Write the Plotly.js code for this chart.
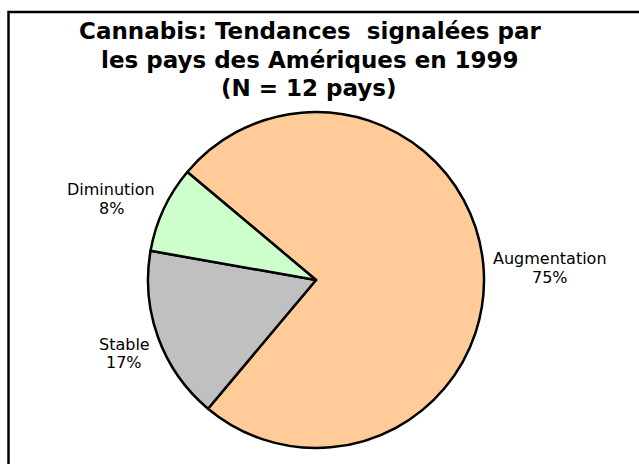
<!DOCTYPE html>
<html>
<head>
<meta charset="utf-8">
<script src="https://cdn.plot.ly/plotly-3.0.1.min.js"></script>
<style>html,body{margin:0;padding:0;background:#fff;}#chart{width:639px;height:464px;}</style>
</head>
<body>
<div id="chart"></div>
<script>
const titleLines = ["Cannabis: Tendances\u00a0\u00a0signalées par", "les pays des Amériques en 1999", "(N = 12 pays)"];
const categories = ["Augmentation", "Stable", "Diminution"];
const counts = [9, 2, 1];
const colors = ["#FFCC99", "#C0C0C0", "#CCFFCC"];

const W = 639, H = 464;
const cx = 316, cy = 280, r = 168;

// label placement (pixel centres for name line and percent line)
const labelPos = [
  { x: 550, y1: 258, y2: 277 },
  { x: 124, y1: 344, y2: 362 },
  { x: 111, y1: 189, y2: 208 }
];
const titlePos = [{ x: 310, y: 31 }, { x: 310, y: 60 }, { x: 309, y: 88 }];

const total = counts.reduce((a, b) => a + b, 0);

const trace = {
  type: "pie",
  labels: categories,
  values: counts,
  sort: false,
  direction: "clockwise",
  rotation: -50,
  marker: { colors: colors, line: { color: "#000", width: 2.5 } },
  textinfo: "none",
  hoverinfo: "none",
  domain: { x: [(cx - r) / W, (cx + r) / W], y: [1 - (cy + r) / H, 1 - (cy - r) / H] },
  showlegend: false
};

const annotations = [];
titleLines.forEach((t, i) => {
  annotations.push({
    text: t, showarrow: false, xref: "paper", yref: "paper",
    x: titlePos[i].x / W, y: 1 - titlePos[i].y / H, xanchor: "center", yanchor: "middle",
    font: { family: "DejaVu Sans", size: 23, color: "#000", weight: "bold" }
  });
});
categories.forEach((c, i) => {
  const pct = Math.round(counts[i] / total * 100) + "%";
  const p = labelPos[i];
  annotations.push({
    text: c, showarrow: false, xref: "paper", yref: "paper",
    x: p.x / W, y: 1 - p.y1 / H, xanchor: "center", yanchor: "middle",
    font: { family: "DejaVu Sans", size: 16, color: "#000" }
  });
  annotations.push({
    text: pct, showarrow: false, xref: "paper", yref: "paper",
    x: p.x / W, y: 1 - p.y2 / H, xanchor: "center", yanchor: "middle",
    font: { family: "DejaVu Sans", size: 16, color: "#000" }
  });
});

const layout = {
  width: W, height: H,
  margin: { l: 0, r: 0, t: 0, b: 0 },
  paper_bgcolor: "#fff",
  font: { family: "DejaVu Sans", color: "#000" },
  annotations: annotations,
  shapes: [{
    type: "rect", xref: "paper", yref: "paper",
    x0: 8.5 / W, x1: 1.2, y0: -0.2, y1: 1 - 12 / H,
    line: { color: "#000", width: 2.5 }
  }]
};

Plotly.newPlot("chart", [trace], layout, { staticPlot: true, displayModeBar: false });
</script>
</body>
</html>
